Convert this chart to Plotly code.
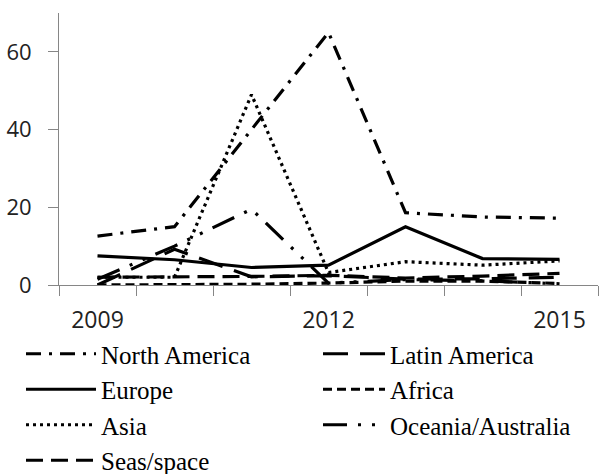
import plotly.graph_objects as go

years = ["2009", "2010", "2011", "2012", "2013", "2014", "2015"]
tick_text = ["2009", "", "", "2012", "", "", "2015"]

north_america = [12.6, 15.0, 40.0, 65.0, 18.6, 17.5, 17.2]
latin_america = [0.0, 9.2, 2.1, 2.4, 1.5, 1.6, 2.0]
europe = [7.5, 6.5, 4.5, 5.1, 15.0, 6.8, 6.6]
africa = [0.0, 0.0, 0.2, 0.5, 1.0, 1.0, 0.4]
asia = [2.0, 2.0, 49.0, 3.2, 6.0, 5.1, 6.2]
oceania = [1.5, 10.0, 19.5, 0.5, 1.4, 1.1, 0.3]
seas_space = [2.0, 2.0, 2.2, 2.5, 1.8, 2.3, 3.0]

# (name, values, dash, legend column)
series = [
    ("North America", north_america, "15px,8px,3px,8px", "legend"),
    ("Latin America", latin_america, "25px,12px", "legend2"),
    ("Europe", europe, "solid", "legend"),
    ("Africa", africa, "9px,5px", "legend2"),
    ("Asia", asia, "3px,4px", "legend"),
    ("Oceania/Australia", oceania, "24px,11px,3px,11px,3px,11px", "legend2"),
    ("Seas/space", seas_space, "17px,8px", "legend"),
]

fig = go.Figure()
for name, vals, dash, leg in series:
    fig.add_trace(go.Scatter(
        x=years, y=vals, name=name, mode="lines",
        line=dict(color="black", width=3.2, dash=dash),
        legend=leg,
    ))

axis_gray = "#868686"
legend_font = dict(family="Liberation Serif", size=25, color="black")
plot_w = 599 - 59 - 1
plot_h = 474 - 13 - 189


def px_x(p):
    return (p - 59) / plot_w


def px_y(p):
    return (285 - p) / plot_h


fig.update_layout(
    width=599, height=474,
    margin=dict(l=59, r=1, t=13, b=189, autoexpand=False),
    paper_bgcolor="white", plot_bgcolor="white",
    showlegend=True,
    legend=dict(
        orientation="v",
        x=px_x(21), xanchor="left",
        y=px_y(331), yanchor="top",
        font=legend_font,
        itemwidth=70,
        tracegroupgap=0,
        bgcolor="rgba(0,0,0,0)",
    ),
    legend2=dict(
        orientation="v",
        x=px_x(318), xanchor="left",
        y=px_y(331), yanchor="top",
        font=legend_font,
        itemwidth=62,
        tracegroupgap=0,
        bgcolor="rgba(0,0,0,0)",
    ),
    xaxis=dict(
        type="category",
        tickmode="array", tickvals=years, ticktext=tick_text,
        tickson="boundaries",
        ticks="outside", ticklen=10, tickcolor=axis_gray,
        showline=True, linecolor=axis_gray, linewidth=1,
        showgrid=False, zeroline=False,
        tickfont=dict(family="Open Sans", size=23, color="#222222"),
        ticklabelstandoff=14,
        range=[-0.5, 6.5],
        automargin=False,
    ),
    yaxis=dict(
        range=[0, 70],
        tickmode="array", tickvals=[0, 20, 40, 60],
        ticks="outside", ticklen=10, tickcolor=axis_gray,
        showline=True, linecolor=axis_gray, linewidth=1,
        showgrid=False, zeroline=False,
        tickfont=dict(family="Open Sans", size=22, color="#222222"),
        ticklabelstandoff=12,
        automargin=False,
    ),
)

fig.write_html(
    "out.html",
    config={"displayModeBar": False},
    post_script="document.body.style.margin='0';document.body.style.overflow='hidden';",
)
